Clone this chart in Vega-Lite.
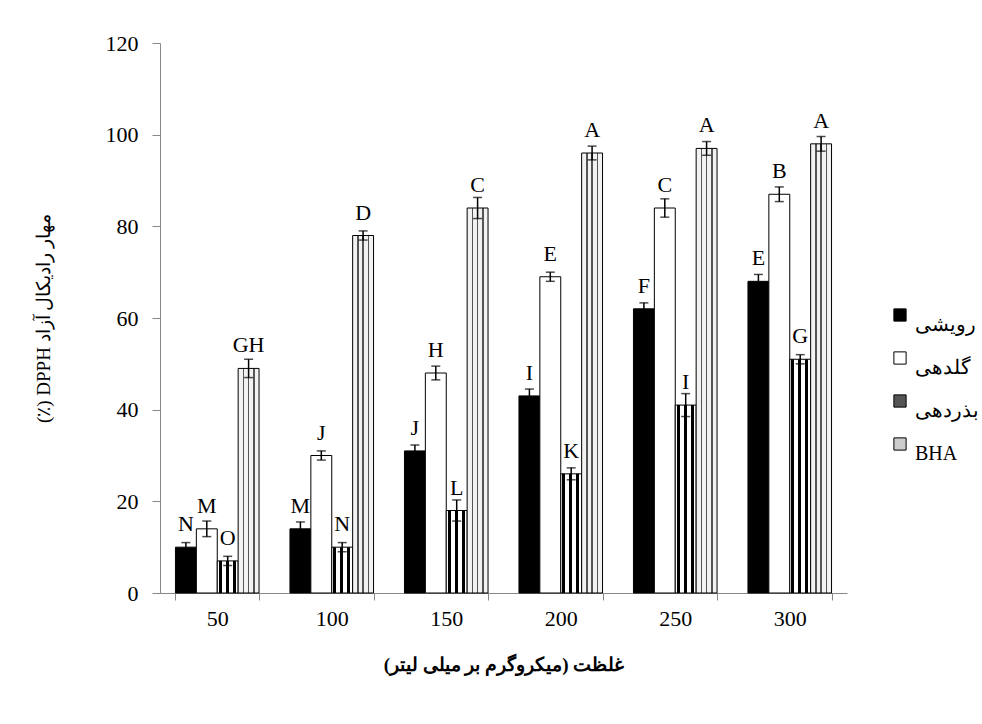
{
  "$schema": "https://vega.github.io/schema/vega-lite/v6.json",
  "width": 687,
  "height": 550,
  "autosize": "none",
  "padding": {"left": 160, "top": 43, "right": 135, "bottom": 131},
  "background": "white",
  "config": {
    "view": {"stroke": null},
    "font": "Liberation Serif",
    "axis": {"labelFont": "Liberation Serif", "titleFont": "Liberation Serif", "labelColor": "#000", "titleColor": "#000"}
  },
  "data": {
    "values": [
      {"conc": "50", "type": "رویشی", "value": 10, "err": 1, "label": "N"},
      {"conc": "50", "type": "گلدهی", "value": 14, "err": 1.7, "label": "M"},
      {"conc": "50", "type": "بذردهی", "value": 7, "err": 1, "label": "O"},
      {"conc": "50", "type": "BHA", "value": 49, "err": 2, "label": "GH"},
      {"conc": "100", "type": "رویشی", "value": 14, "err": 1.5, "label": "M"},
      {"conc": "100", "type": "گلدهی", "value": 30, "err": 1, "label": "J"},
      {"conc": "100", "type": "بذردهی", "value": 10, "err": 1, "label": "N"},
      {"conc": "100", "type": "BHA", "value": 78, "err": 1, "label": "D"},
      {"conc": "150", "type": "رویشی", "value": 31, "err": 1.3, "label": "J"},
      {"conc": "150", "type": "گلدهی", "value": 48, "err": 1.5, "label": "H"},
      {"conc": "150", "type": "بذردهی", "value": 18, "err": 2.3, "label": "L"},
      {"conc": "150", "type": "BHA", "value": 84, "err": 2.3, "label": "C"},
      {"conc": "200", "type": "رویشی", "value": 43, "err": 1.5, "label": "I"},
      {"conc": "200", "type": "گلدهی", "value": 69, "err": 1, "label": "E"},
      {"conc": "200", "type": "بذردهی", "value": 26, "err": 1.3, "label": "K"},
      {"conc": "200", "type": "BHA", "value": 96, "err": 1.5, "label": "A"},
      {"conc": "250", "type": "رویشی", "value": 62, "err": 1.3, "label": "F"},
      {"conc": "250", "type": "گلدهی", "value": 84, "err": 2, "label": "C"},
      {"conc": "250", "type": "بذردهی", "value": 41, "err": 2.5, "label": "I"},
      {"conc": "250", "type": "BHA", "value": 97, "err": 1.5, "label": "A"},
      {"conc": "300", "type": "رویشی", "value": 68, "err": 1.5, "label": "E"},
      {"conc": "300", "type": "گلدهی", "value": 87, "err": 1.6, "label": "B"},
      {"conc": "300", "type": "بذردهی", "value": 51, "err": 1, "label": "G"},
      {"conc": "300", "type": "BHA", "value": 98, "err": 1.6, "label": "A"}
    ]
  },
  "transform": [
    {"calculate": "datum.value - datum.err", "as": "lo"},
    {"calculate": "datum.value + datum.err", "as": "hi"}
  ],
  "encoding": {
    "x": {
      "field": "conc", "type": "ordinal", "sort": ["50", "100", "150", "200", "250", "300"],
      "scale": {"paddingInner": 0.27, "paddingOuter": 0.135},
      "axis": {
        "title": "\u200fغلظت (میکروگرم بر میلی لیتر)\u200f",
        "titleFontSize": 19, "titleFontWeight": "bold", "titlePadding": 26,
        "labelAngle": 0, "labelFontSize": 22, "labelPadding": 8,
        "tickBand": "extent", "tickSize": 7, "tickColor": "#888", "domainColor": "#888",
        "labelFontWeight": "normal"
      }
    },
    "xOffset": {"field": "type", "type": "nominal", "sort": ["رویشی", "گلدهی", "بذردهی", "BHA"], "scale": {"paddingInner": 0, "paddingOuter": 0}}
  },
  "layer": [
    {
      "mark": {"type": "bar", "stroke": "#000", "strokeWidth": 1},
      "encoding": {
        "y": {
          "field": "value", "type": "quantitative",
          "scale": {"domain": [0, 120], "nice": false},
          "axis": {
            "title": "(٪)\u200e DPPH\u200e آزاد\u200e رادیکال\u200e مهار",
            "titleFontSize": 19, "titleFontWeight": "normal", "titlePadding": 52,
            "values": [0, 20, 40, 60, 80, 100, 120], "grid": false,
            "labelFontSize": 22, "labelPadding": 14, "tickSize": 8,
            "tickColor": "#888", "domainColor": "#888"
          }
        },
        "fill": {
          "condition": [
            {"test": "datum.type === 'بذردهی'", "value": {"gradient": "linear", "x1": 0, "y1": 0, "x2": 1, "y2": 0, "stops": [
                {"offset": 0, "color": "#ffffff"}, {"offset": 0.08, "color": "#ffffff"},
                {"offset": 0.08, "color": "#000000"}, {"offset": 0.22, "color": "#000000"},
                {"offset": 0.22, "color": "#ffffff"}, {"offset": 0.413, "color": "#ffffff"},
                {"offset": 0.413, "color": "#000000"}, {"offset": 0.553, "color": "#000000"},
                {"offset": 0.553, "color": "#ffffff"}, {"offset": 0.747, "color": "#ffffff"},
                {"offset": 0.747, "color": "#000000"}, {"offset": 0.887, "color": "#000000"},
                {"offset": 0.887, "color": "#ffffff"}, {"offset": 1, "color": "#ffffff"}
              ]}},
            {"test": "datum.type === 'BHA'", "value": {"gradient": "linear", "x1": 0, "y1": 0, "x2": 1, "y2": 0, "stops": [
                {"offset": 0, "color": "#f2f2f2"}, {"offset": 0.22, "color": "#f2f2f2"},
                {"offset": 0.22, "color": "#555555"}, {"offset": 0.29, "color": "#555555"},
                {"offset": 0.29, "color": "#f2f2f2"}, {"offset": 0.47, "color": "#f2f2f2"},
                {"offset": 0.47, "color": "#555555"}, {"offset": 0.54, "color": "#555555"},
                {"offset": 0.54, "color": "#f2f2f2"}, {"offset": 0.72, "color": "#f2f2f2"},
                {"offset": 0.72, "color": "#555555"}, {"offset": 0.79, "color": "#555555"},
                {"offset": 0.79, "color": "#f2f2f2"}, {"offset": 1, "color": "#f2f2f2"}
              ]}}
          ],
          "field": "type", "type": "nominal",
          "scale": {
            "domain": ["رویشی", "گلدهی", "بذردهی", "BHA"],
            "range": ["#000000", "#ffffff", "#555555", "#cccccc"]
          },
          "legend": {
            "title": null, "orient": "none", "legendX": 730, "legendY": 262,
            "symbolType": "square", "symbolSize": 150, "symbolStrokeColor": "#000", "symbolStrokeWidth": 1,
            "symbolOpacity": 1,
            "labelFontSize": 20, "labelFont": "Liberation Serif", "labelBaseline": "top",
            "rowPadding": 13, "labelOffset": 5, "labelColor": "#000"
          }
        }
      }
    },
    {
      "mark": {"type": "rule", "color": "#000", "strokeWidth": 1.5},
      "encoding": {"y": {"field": "lo", "type": "quantitative"}, "y2": {"field": "hi"}}
    },
    {
      "mark": {"type": "tick", "color": "#000", "size": 9, "thickness": 1.5, "orient": "horizontal"},
      "encoding": {"y": {"field": "lo", "type": "quantitative"}}
    },
    {
      "mark": {"type": "tick", "color": "#000", "size": 9, "thickness": 1.5, "orient": "horizontal"},
      "encoding": {"y": {"field": "hi", "type": "quantitative"}}
    },
    {
      "mark": {"type": "text", "fontSize": 22, "font": "Liberation Serif", "baseline": "alphabetic", "dy": -16, "color": "#000"},
      "encoding": {"y": {"field": "value", "type": "quantitative"}, "text": {"field": "label"}}
    }
  ]
}
